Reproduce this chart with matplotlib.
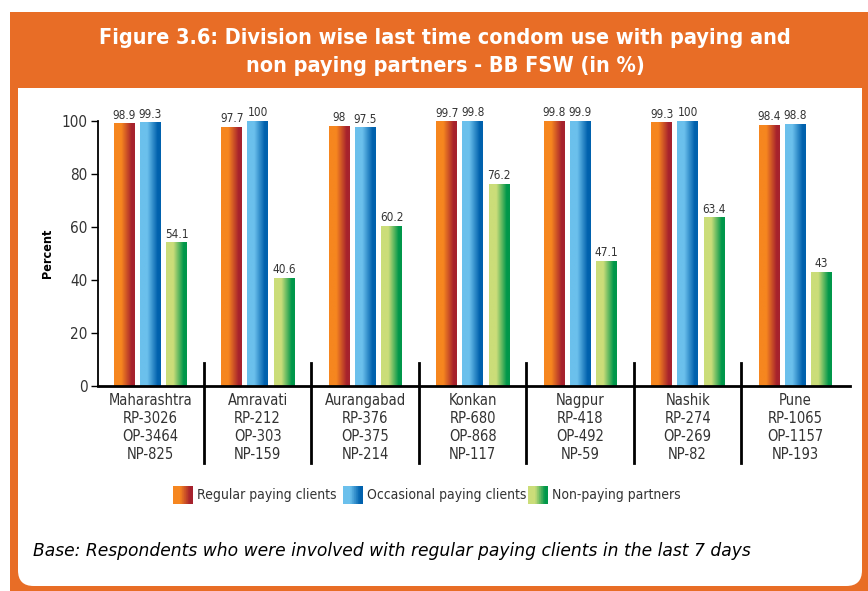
import numpy as np
import matplotlib
matplotlib.use("Agg")
import matplotlib.pyplot as plt
from matplotlib.colors import LinearSegmentedColormap
from matplotlib.patches import Rectangle, FancyBboxPatch

plt.rcParams['font.family'] = ['DejaVu Sans']
plt.rcParams['font.stretch'] = 'condensed'

# ---------------- data ----------------
divisions = ["Maharashtra", "Amravati", "Aurangabad", "Konkan", "Nagpur", "Nashik", "Pune"]
rp_n = ["RP-3026", "RP-212", "RP-376", "RP-680", "RP-418", "RP-274", "RP-1065"]
op_n = ["OP-3464", "OP-303", "OP-375", "OP-868", "OP-492", "OP-269", "OP-1157"]
np_n = ["NP-825", "NP-159", "NP-214", "NP-117", "NP-59", "NP-82", "NP-193"]
regular = [98.9, 97.7, 98, 99.7, 99.8, 99.3, 98.4]
occasional = [99.3, 100, 97.5, 99.8, 99.9, 100, 98.8]
nonpaying = [54.1, 40.6, 60.2, 76.2, 47.1, 63.4, 43]
value_labels = {
    "regular": ["98.9", "97.7", "98", "99.7", "99.8", "99.3", "98.4"],
    "occasional": ["99.3", "100", "97.5", "99.8", "99.9", "100", "98.8"],
    "nonpaying": ["54.1", "40.6", "60.2", "76.2", "47.1", "63.4", "43"],
}
series_names = ["Regular paying clients", "Occasional paying clients", "Non-paying partners"]
title = "Figure 3.6: Division wise last time condom use with paying and\nnon paying partners - BB FSW (in %)"
footnote = "Base: Respondents who were involved with regular paying clients in the last 7 days"

# ---------------- styles ----------------
ORANGE = "#E86D26"
grad_colors = [("#F6861F", "#A6222D"), ("#6BC0EC", "#0061AD"), ("#CBDD79", "#00974A")]
cmaps = [LinearSegmentedColormap.from_list(
    f"g{i}", [(0, lc), (0.35, lc), (0.85, dc), (1, dc)]) for i, (lc, dc) in enumerate(grad_colors)]
TXT = "#333333"

W, H = 868, 591
fig = plt.figure(figsize=(W / 100, H / 100), dpi=100)

def fx(px):
    return px / W

def fy(py):
    return 1 - py / H

# frame
fig.patches.append(Rectangle((fx(10), 0), 1 - fx(10), fy(12), transform=fig.transFigure,
                             facecolor=ORANGE, edgecolor="none", zorder=-3))
fig.patches.append(FancyBboxPatch((fx(18), fy(586)), fx(862) - fx(18), fy(70) - fy(586),
                                  boxstyle="round,pad=0,rounding_size=0.018",
                                  transform=fig.transFigure, facecolor="white",
                                  edgecolor="none", zorder=-2, mutation_aspect=W / H))
fig.patches.append(Rectangle((fx(18), fy(88)), fx(862) - fx(18), fy(60) - fy(88),
                             transform=fig.transFigure, facecolor=ORANGE, edgecolor="none", zorder=-1))

fig.text(fx(445), fy(52), title, ha="center", va="center", color="white",
         fontsize=15.5, fontweight="bold", linespacing=1.55)

ax = fig.add_axes([fx(97.5), fy(386), fx(850) - fx(97.5), fy(121) - fy(386)])
ax.set_facecolor("none")
ax.set_zorder(2)

x = np.arange(len(divisions))
width = 0.195
offsets = [-0.24, 0.0, 0.247]
gradient = np.linspace(0, 1, 64).reshape(1, -1)

for si, vals in enumerate([regular, occasional, nonpaying]):
    key = ["regular", "occasional", "nonpaying"][si]
    for gi, v in enumerate(vals):
        xc = x[gi] + offsets[si]
        ax.imshow(gradient, cmap=cmaps[si], extent=[xc - width / 2, xc + width / 2, 0, v],
                  aspect="auto", interpolation="bilinear", zorder=2)
        ax.text(xc, v + 0.8, value_labels[key][gi], ha="center", va="bottom",
                fontsize=8.5, color=TXT)

ax.set_xlim(-0.49, 6.51)
ax.set_ylim(0, 100)

for s in ["top", "right"]:
    ax.spines[s].set_visible(False)
ax.spines["left"].set_linewidth(1.3)
ax.spines["bottom"].set_linewidth(2)
ax.spines["bottom"].set_zorder(3)

ax.set_yticks([0, 20, 40, 60, 80, 100])
ax.tick_params(axis="y", length=5, width=1, labelsize=11, labelcolor=TXT, pad=2)
ax.set_xticks(x)
ax.set_xticklabels([f"{d}\n{r}\n{o}\n{n}" for d, r, o, n in zip(divisions, rp_n, op_n, np_n)],
                   fontsize=10.5, color=TXT, linespacing=1.25)
ax.tick_params(axis="x", length=0, pad=5)

for b in np.arange(0.5, 6, 1.0):
    ax.plot([b, b], [8.5, -29], color="black", lw=2, clip_on=False, zorder=3)

fig.text(fx(47), fy(253), "Percent", rotation=90, ha="center", va="center",
         fontsize=9, fontweight="bold", color="black")

# legend with gradient swatches (drawn at fixed figure positions)
leg_x = [173, 343, 528]
n = 30
for li, name in enumerate(series_names):
    x0 = leg_x[li]
    for i in range(n):
        fig.patches.append(Rectangle((fx(x0 + 20 * i / n), fy(504)), fx(20 / n * 1.1), fy(486) - fy(504),
                                     transform=fig.transFigure, facecolor=cmaps[li]((i + 0.5) / n),
                                     edgecolor="none", zorder=1))
    fig.text(fx(x0 + 24), fy(495.5), name, ha="left", va="center", fontsize=10, color=TXT)

fig.text(fx(33), fy(551), footnote, ha="left", va="center", fontsize=12.3,
         style="italic", color="black", fontstretch="normal")

fig.savefig("out.png", dpi=100)
